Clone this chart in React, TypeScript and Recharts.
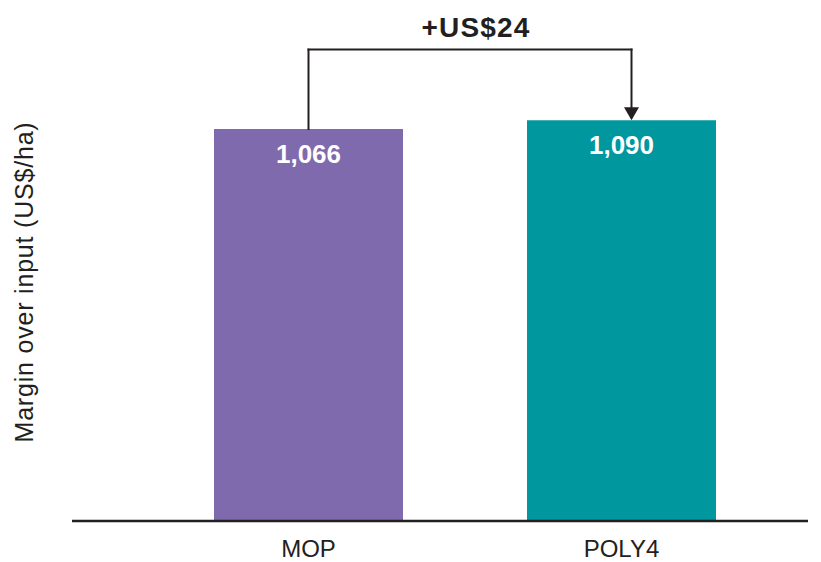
import React from 'react';
import { BarChart, Bar, XAxis, YAxis, Cell, LabelList, ReferenceLine } from 'recharts';

const categories = ['MOP', 'POLY4'];
const margins = [1066, 1090];
const barColors = ['#7f6aae', '#00979f'];
const differenceLabel = '+US$24';
const yAxisLabel = 'Margin over input (US$/ha)';

// height of the bracket above the bars, in US$/ha
const BRACKET_Y = 1282;

const INK = '#231f20';
const FONT = '"Liberation Sans", Arial, sans-serif';
const ARROW_DX = 10; // arrow sits a little right of the bar centre in the original

const data = categories.map((name, i) => ({ name, value: margins[i] }));

const fmt = (v: any) => Number(v).toLocaleString('en-US');

const LeftLeg = (p: any) => (
  <line x1={p.x1} y1={p.y1} x2={p.x2} y2={p.y2} stroke={INK} strokeWidth={2} strokeLinecap="square" />
);

const TopBar = (p: any) => (
  <line x1={p.x1} y1={p.y1} x2={p.x2 + ARROW_DX} y2={p.y2} stroke={INK} strokeWidth={2} strokeLinecap="square" />
);

const ArrowLeg = (p: any) => {
  const x = p.x1 + ARROW_DX;
  const tip = p.y2;
  return (
    <g>
      <line x1={x} y1={p.y1} x2={x} y2={tip - 10} stroke={INK} strokeWidth={2} strokeLinecap="square" />
      <path d={`M${x - 7.5},${tip - 13} L${x + 7.5},${tip - 13} L${x},${tip} Z`} fill={INK} />
    </g>
  );
};

const DiffLabel = (props: any) => {
  const vb = props.viewBox || {};
  return (
    <text
      x={vb.x + vb.width / 2 + 11}
      y={vb.y - 12.5}
      textAnchor="middle"
      fill={INK}
      fontSize={28}
      fontWeight="bold"
      letterSpacing={1.2}
      fontFamily={FONT}
    >
      {differenceLabel}
    </text>
  );
};

export default function App() {
  return (
    <div style={{ position: 'absolute', left: 0, top: 0, fontFamily: FONT }}>
      <BarChart
        width={821}
        height={562}
        data={data}
        margin={{ top: 43, right: 13, bottom: 11, left: 12 }}
      >
        <XAxis
          dataKey="name"
          height={30}
          padding={{ left: 80, right: 30 }}
          axisLine={{ stroke: INK, strokeWidth: 2.5 }}
          tickLine={false}
          tickMargin={13}
          tick={{ fill: INK, fontSize: 24, fontFamily: FONT }}
        />
        <YAxis
          width={60}
          domain={[0, 1300]}
          allowDataOverflow
          axisLine={false}
          tickLine={false}
          tick={false}
          label={{
            value: yAxisLabel,
            angle: -90,
            position: 'insideLeft',
            offset: 12.5,
            fill: INK,
            fontSize: 25,
            style: { textAnchor: 'middle', fontFamily: FONT, letterSpacing: '0.8px' },
          }}
        />
        <Bar dataKey="value" barSize={189} isAnimationActive={false}>
          {data.map((d, i) => (
            <Cell key={d.name} fill={barColors[i]} />
          ))}
          <LabelList
            dataKey="value"
            position="insideTop"
            offset={15}
            formatter={fmt}
            fill="#ffffff"
            fontSize={26}
            fontWeight="bold"
            fontFamily={FONT}
          />
        </Bar>
        <ReferenceLine
          segment={[{ x: categories[0], y: margins[0] }, { x: categories[0], y: BRACKET_Y }]}
          shape={LeftLeg}
        />
        <ReferenceLine
          segment={[{ x: categories[0], y: BRACKET_Y }, { x: categories[1], y: BRACKET_Y }]}
          shape={TopBar}
          label={<DiffLabel />}
        />
        <ReferenceLine
          segment={[{ x: categories[1], y: BRACKET_Y }, { x: categories[1], y: margins[1] }]}
          shape={ArrowLeg}
        />
      </BarChart>
    </div>
  );
}
